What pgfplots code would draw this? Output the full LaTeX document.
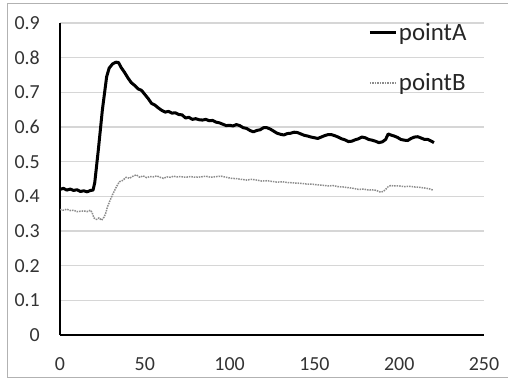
\documentclass[border=0pt]{standalone}
\usepackage{fontspec}
\setmainfont{Carlito}
\usepackage{pgfplots}
\pgfplotsset{compat=1.18}
\pgfplotstableread{
x y
0 0.420
2 0.423
4 0.418
6 0.421
8 0.417
10 0.419
12 0.414
14 0.416
16 0.413
18 0.417
19.5 0.418
20.5 0.44
22.6 0.534
25 0.65
27.5 0.745
29 0.77
31 0.782
33 0.787
34.5 0.786
36 0.772
38 0.758
40 0.742
42 0.728
44 0.72
46 0.71
48 0.706
50 0.694
52 0.682
54 0.668
56 0.663
58 0.655
60 0.648
62 0.643
64 0.645
66 0.640
68 0.641
70 0.636
72 0.635
74 0.626
76 0.628
78 0.622
80 0.624
82 0.621
84 0.620
86 0.622
88 0.618
90 0.619
92 0.614
94 0.612
96 0.608
98 0.604
100 0.605
102 0.603
104 0.607
106 0.604
108 0.598
110 0.596
112 0.590
114 0.586
116 0.590
118 0.592
120 0.598
122 0.598
124 0.594
126 0.588
128 0.582
130 0.579
132 0.577
134 0.581
136 0.582
138 0.585
140 0.584
142 0.580
144 0.576
146 0.574
148 0.571
150 0.569
152 0.567
154 0.571
156 0.575
158 0.578
160 0.578
162 0.575
164 0.571
166 0.566
168 0.563
170 0.558
172 0.559
174 0.563
176 0.566
178 0.571
180 0.569
182 0.564
184 0.562
186 0.559
188 0.555
190 0.557
192 0.564
193.5 0.580
195 0.577
197 0.574
199 0.570
201 0.564
203 0.562
205 0.561
207 0.567
209 0.571
211 0.572
213 0.568
215 0.564
217 0.564
219 0.559
220.5 0.555
}\pointA
\pgfplotstableread{
x y
0 0.362
2 0.360
4 0.363
6 0.359
8 0.360
10 0.356
12 0.357
14 0.358
16 0.356
18 0.360
19 0.352
20 0.338
21.5 0.333
23 0.338
24.5 0.331
26 0.340
27 0.352
28 0.370
29.5 0.388
31 0.405
33 0.425
35 0.442
37 0.446
39 0.455
41 0.452
43 0.458
45 0.462
47 0.455
49 0.459
51 0.454
53 0.457
55 0.456
57 0.459
59 0.455
61 0.452
63 0.456
65 0.455
67 0.458
69 0.456
71 0.457
74 0.455
77 0.457
80 0.455
83 0.456
86 0.458
89 0.455
92 0.457
95 0.458
98 0.455
101 0.452
104 0.451
107 0.449
110 0.447
113 0.449
116 0.447
119 0.444
122 0.445
125 0.443
128 0.441
131 0.442
134 0.440
137 0.439
140 0.438
143 0.437
146 0.435
149 0.435
152 0.433
155 0.432
158 0.430
161 0.431
164 0.428
167 0.427
170 0.425
173 0.423
176 0.420
179 0.421
182 0.418
185 0.419
187 0.416
189 0.412
190.5 0.414
192 0.420
193.5 0.428
195 0.431
197 0.430
200 0.430
203 0.428
206 0.429
209 0.427
212 0.426
215 0.424
217.5 0.422
220 0.418
}\pointB
\begin{document}
\begin{tikzpicture}[x=1bp,y=1bp]
\path[use as bounding box] (0,0) rectangle (508,379);
\draw[black!30, line width=1bp] (512,375) -- (7.5,375) -- (7.5,2) -- (512,2);
\begin{axis}[
  at={(60bp,44bp)}, anchor=south west,
  scale only axis, width=424bp, height=312bp,
  xmin=0, xmax=250, ymin=0, ymax=0.9,
  xtick={0,50,100,150,200,250},
  ytick={0,0.1,0.2,0.3,0.4,0.5,0.6,0.7,0.8,0.9},
  yticklabels={0,0.1,0.2,0.3,0.4,0.5,0.6,0.7,0.8,0.9},
  axis lines*=left,
  axis line style={-, black, line width=1.6bp},
  ymajorgrids, grid style={black!16, line width=1.2bp},
  major tick length=0pt,
  tick label style={font=\fontsize{20}{24}\selectfont, text=black!80, inner sep=0pt},
  /pgf/number format/assume math mode=true,
  xticklabel shift=22bp, yticklabel shift=20bp,
  legend cell align=left,
  legend style={draw=none, fill=none, at={(0.727,1.005)}, anchor=north west,
    inner sep=0pt, font=\fontsize{25}{30}\selectfont, text=black!85,
    row sep=29bp, nodes={inner sep=1.5bp}},
  legend image code/.code={\draw[#1] (0bp,0bp) -- (26bp,0bp);},
]
\addplot[black, line width=3bp, line join=round] table {\pointA};
\addlegendentry{pointA}
\addplot[black!45, densely dotted, line width=1.5bp, line join=round] table {\pointB};
\addlegendentry{pointB}
\end{axis}
\end{tikzpicture}
\end{document}
